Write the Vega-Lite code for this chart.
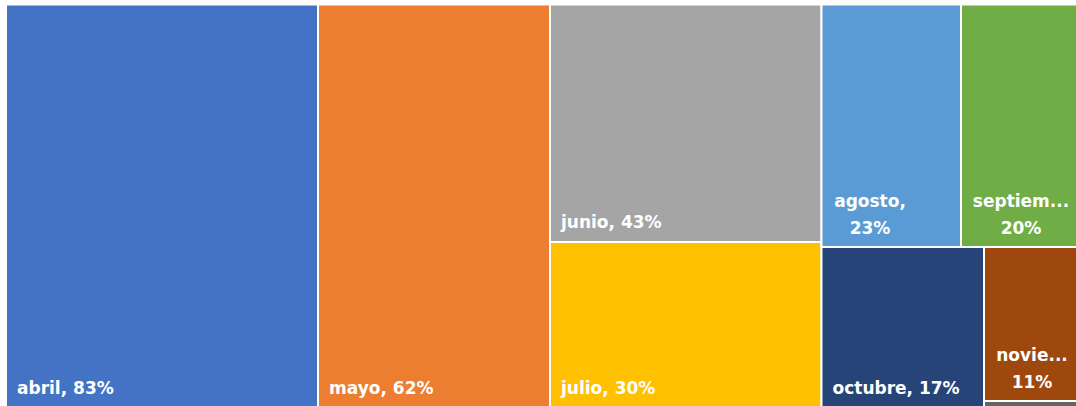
{
  "$schema": "https://vega.github.io/schema/vega-lite/v6.json",
  "width": 1076,
  "height": 406,
  "autosize": {"type": "fit", "contains": "padding"},
  "padding": 0,
  "background": "white",
  "config": {"view": {"stroke": null}},
  "data": {
    "values": [
      {"mes": "abril", "pct": 83, "label": "abril, 83%", "multi": false, "x0": 6, "x1": 318, "y0": 4.5, "y1": 408, "lx": 6},
      {"mes": "mayo", "pct": 62, "label": "mayo, 62%", "multi": false, "x0": 318, "x1": 550, "y0": 4.5, "y1": 408, "lx": 318},
      {"mes": "junio", "pct": 43, "label": "junio, 43%", "multi": false, "x0": 550, "x1": 821.5, "y0": 4.5, "y1": 242, "lx": 550},
      {"mes": "julio", "pct": 30, "label": "julio, 30%", "multi": false, "x0": 550, "x1": 821.5, "y0": 242, "y1": 408, "lx": 550},
      {"mes": "agosto", "pct": 23, "label": "agosto,\n23%", "multi": true, "x0": 821.5, "x1": 961, "y0": 4.5, "y1": 247, "lx": 870},
      {"mes": "septiembre", "pct": 20, "label": "septiem...\n20%", "multi": true, "x0": 961, "x1": 1080, "y0": 4.5, "y1": 247, "lx": 1021},
      {"mes": "octubre", "pct": 17, "label": "octubre, 17%", "multi": false, "x0": 821.5, "x1": 984, "y0": 247, "y1": 408, "lx": 821.5},
      {"mes": "noviembre", "pct": 11, "label": "novie...\n11%", "multi": true, "x0": 984, "x1": 1080, "y0": 247, "y1": 401, "lx": 1032},
      {"mes": "diciembre", "pct": 0.4, "label": "", "multi": false, "x0": 984, "x1": 1080, "y0": 401, "y1": 414, "lx": 984}
    ]
  },
  "encoding": {
    "x": {"field": "x0", "type": "quantitative", "scale": {"domain": [0, 1076], "nice": false, "zero": false}, "axis": null},
    "y": {"field": "y0", "type": "quantitative", "scale": {"domain": [0, 406], "nice": false, "zero": false, "reverse": true}, "axis": null}
  },
  "layer": [
    {
      "mark": {"type": "rect", "stroke": "white", "strokeWidth": 2, "clip": true},
      "encoding": {
        "x2": {"field": "x1"},
        "y2": {"field": "y1"},
        "color": {
          "field": "mes", "type": "nominal", "legend": null,
          "scale": {
            "domain": ["abril", "mayo", "junio", "julio", "agosto", "septiembre", "octubre", "noviembre", "diciembre"],
            "range": ["#4472C4", "#ED7D31", "#A5A5A5", "#FFC000", "#5B9BD5", "#70AD47", "#264478", "#9E480E", "#636363"]
          }
        }
      }
    },
    {
      "transform": [{"filter": "!datum.multi && datum.label != ''"}],
      "mark": {"type": "text", "align": "left", "baseline": "alphabetic", "xOffset": 11, "yOffset": -14, "font": "DejaVu Sans", "fontWeight": "bold", "fontSize": 17, "color": "white", "clip": true},
      "encoding": {
        "x": {"field": "x0", "type": "quantitative"},
        "y": {"field": "y1", "type": "quantitative"},
        "text": {"field": "label", "type": "nominal"}
      }
    },
    {
      "transform": [{"filter": "datum.multi"}],
      "mark": {"type": "text", "align": "center", "baseline": "alphabetic", "yOffset": -40, "lineBreak": "\n", "lineHeight": 27, "font": "DejaVu Sans", "fontWeight": "bold", "fontSize": 17, "color": "white", "clip": true},
      "encoding": {
        "x": {"field": "lx", "type": "quantitative"},
        "y": {"field": "y1", "type": "quantitative"},
        "text": {"field": "label", "type": "nominal"}
      }
    }
  ]
}
